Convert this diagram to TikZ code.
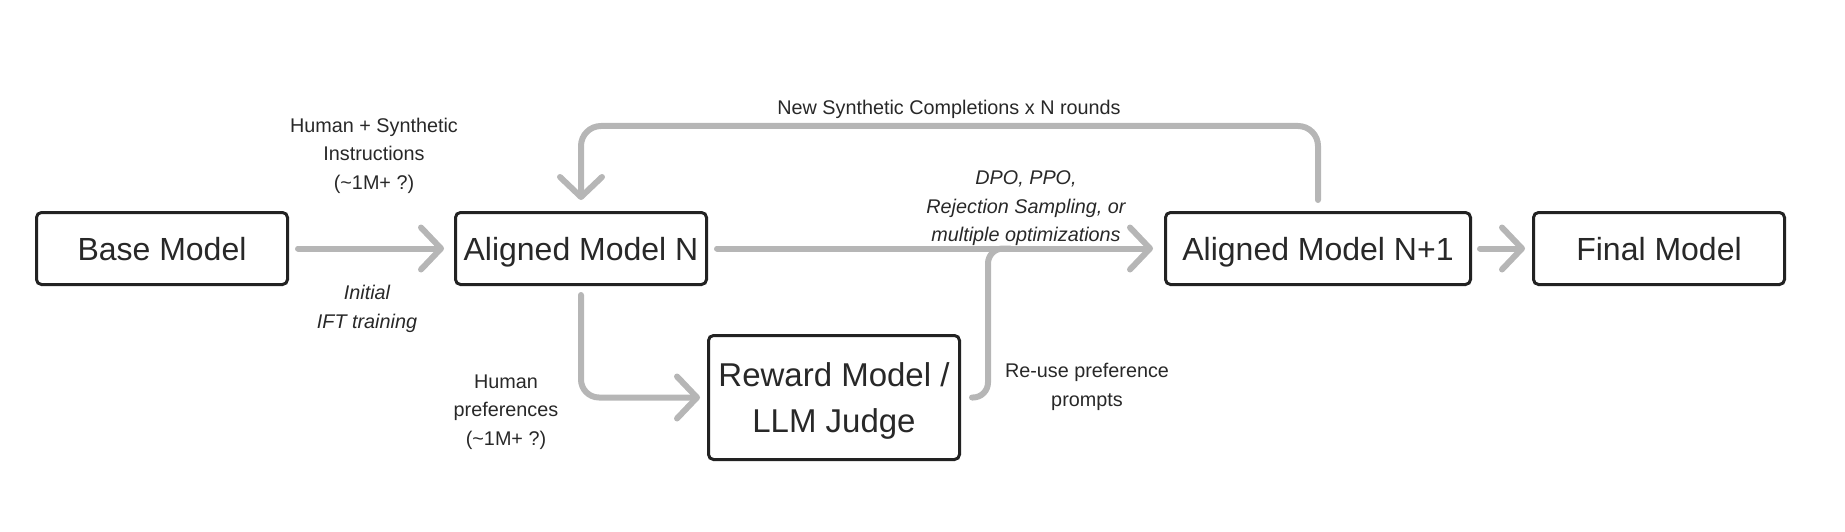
\documentclass[tikz,border=0pt]{standalone}
\usepackage{fontspec}
\setmainfont{Liberation Sans}
\usetikzlibrary{arrows.meta}
\definecolor{arrowgray}{RGB}{182,182,182}
\definecolor{boxdark}{RGB}{34,34,34}
\definecolor{txt}{RGB}{40,40,40}
\tikzset{
  modelbox/.style={draw=boxdark, line width=3pt, rounded corners=5pt, fill=white,
    minimum width=251pt, minimum height=72pt, text=txt, align=center,
    font=\fontsize{32}{38}\selectfont, inner sep=0pt, text depth=0pt},
  flow/.style={draw=arrowgray, line width=6pt, line cap=round, line join=round,
    -{Straight Barb[round, length=20pt, width=42pt]}},
  plainflow/.style={draw=arrowgray, line width=6pt, line cap=round, line join=round},
  lbl/.style={text=txt, align=center, inner sep=0pt,
    font=\fontsize{19.8}{28.5}\selectfont},
  ilbl/.style={lbl, font=\fontsize{19.8}{28.5}\selectfont\itshape},
}
\begin{document}
\begin{tikzpicture}[x=1pt, y=-1pt]
\useasboundingbox (0,0) rectangle (1845,532);

% boxes
\node[modelbox] (base)   at (162,248.5)  {Base Model};
\node[modelbox] (an)     at (581,248.5)  {Aligned Model N};
\node[modelbox, minimum width=305pt] (n1) at (1318,248.5) {Aligned Model N+1};
\node[modelbox] (final)  at (1659,248.5) {Final Model};
\node[modelbox, minimum height=124pt, font=\fontsize{33}{46}\selectfont] (reward) at (834,397.5) {Reward Model /\\LLM Judge};

\coordinate (merge) at (1010,248.5);

% connectors
\draw[flow] ([xshift=9pt]base.east) -- ([xshift=-10pt]an.west);
\draw[flow] ([xshift=9pt]an.east) -- ([xshift=-11pt]n1.west);
\draw[flow] ([xshift=8pt]n1.east) -- ([xshift=-7pt]final.west);
\draw[flow, rounded corners=20pt] ([yshift=11pt]n1.north) -- ++(0,-74) -| ([yshift=11pt]an.north);
\draw[flow, rounded corners=18pt] ([yshift=-9pt]an.south) |- ([xshift=-7pt]reward.west);
\draw[plainflow, rounded corners=15pt] ([xshift=11pt]reward.east) -| ([xshift=-22pt]merge) -- (merge);

% labels
\node[lbl] (l1) at (374,155.5) {Human + Synthetic\\Instructions\\(\textasciitilde 1M+ ?)};
\node[ilbl] (l2) at (367,309) {Initial\\IFT training};
\node[lbl] (l3) at (949,109) {New Synthetic Completions x N rounds};
\node[ilbl] (l4) at (1026,208.5) {DPO, PPO,\\Rejection Sampling, or\\multiple optimizations};
\node[lbl] (l5) at (506,412) {Human\\preferences\\(\textasciitilde 1M+ ?)};
\node[lbl] (l6) at (1087,387) {Re-use preference\\prompts};
\end{tikzpicture}
\end{document}
